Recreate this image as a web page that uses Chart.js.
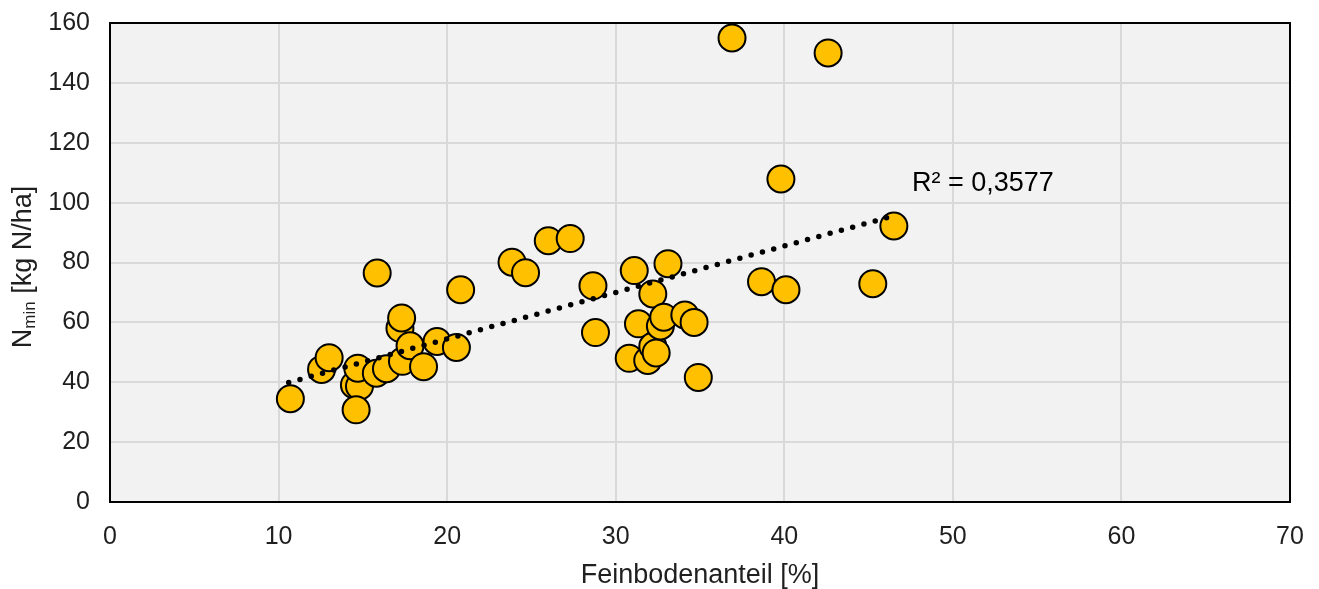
<!DOCTYPE html>
<html>
<head>
<meta charset="utf-8">
<script src="https://cdn.jsdelivr.net/npm/chart.js@4.4.1/dist/chart.umd.min.js"></script>
<style>
  html, body { margin: 0; padding: 0; background: #ffffff; }
  #wrap { width: 1319px; height: 589px; position: relative; }
</style>
</head>
<body>
<div id="wrap"><canvas id="c" width="1319" height="589"></canvas></div>
<script>
// ---- data ----
const feinboden = [10.7, 12.55, 13.0, 14.5, 14.8, 14.7, 14.6, 15.8, 16.4, 15.85,
                   17.2, 17.3, 17.35, 17.8, 18.6, 19.4, 20.55, 20.8, 23.85, 24.65,
                   26.0, 27.3, 28.65, 28.8, 30.8, 31.1, 31.35, 31.9, 32.2, 32.2,
                   32.4, 32.65, 32.85, 33.1, 34.1, 34.65, 34.9, 36.9, 38.65, 39.8,
                   40.1, 42.6, 45.25, 46.5];
const nmin = [34.5, 44.3, 48.2, 39.1, 38.7, 44.7, 30.8, 43.0, 44.5, 76.5,
              58.0, 61.5, 47.0, 52.2, 45.2, 53.6, 51.6, 70.9, 80.1, 76.6,
              87.3, 88.0, 72.2, 56.6, 48.0, 77.3, 59.5, 47.3, 69.5, 52.0,
              49.8, 58.8, 61.7, 79.6, 62.5, 60.0, 41.6, 155.0, 73.6, 107.9,
              70.9, 150.0, 72.9, 92.2];
const trendX = [10.6, 46.5];
const trendY = [39.9, 95.6];
const xTicks = [0, 10, 20, 30, 40, 50, 60, 70];
const yTicks = [0, 20, 40, 60, 80, 100, 120, 140, 160];
const rSquaredLabel = "R² = 0,3577";
const xTitle = "Feinbodenanteil [%]";
const yTitleMain = "N";
const yTitleSub = "min";
const yTitleRest = " [kg N/ha]";

const FONT = "'Liberation Sans', Arial, sans-serif";
const TXT = "#1f1f1f";

const points = feinboden.map((x, i) => ({ x: x, y: nmin[i] }));
const trend = trendX.map((x, i) => ({ x: x, y: trendY[i] }));

const decor = {
  id: 'decor',
  beforeDraw(chart) {
    const { ctx, chartArea: a } = chart;
    ctx.save();
    ctx.fillStyle = '#F2F2F2';
    ctx.fillRect(a.left, a.top, a.right - a.left, a.bottom - a.top);
    ctx.restore();
  },
  afterDatasetsDraw(chart) {
    const { ctx, chartArea: a } = chart;
    ctx.save();
    ctx.strokeStyle = '#000';
    ctx.lineWidth = 2;
    ctx.strokeRect(a.left, a.top, a.right - a.left, a.bottom - a.top);
    ctx.fillStyle = '#000';
    ctx.font = "27px " + FONT;
    ctx.textBaseline = 'alphabetic';
    ctx.textAlign = 'left';
    ctx.fillText(rSquaredLabel, 912, 191);
    ctx.fillStyle = TXT;
    ctx.textAlign = 'center';
    ctx.fillText(xTitle, (a.left + a.right) / 2, 583);
    const mainF = "27px " + FONT, subF = "17px " + FONT;
    ctx.font = mainF; const w1 = ctx.measureText(yTitleMain).width;
    const w3 = ctx.measureText(yTitleRest).width;
    ctx.font = subF; const w2 = ctx.measureText(yTitleSub).width;
    const total = w1 + w2 + w3;
    ctx.translate(31, 267);
    ctx.rotate(-Math.PI / 2);
    ctx.textAlign = 'left';
    let x0 = -total / 2;
    ctx.font = mainF; ctx.fillText(yTitleMain, x0, 0);
    ctx.font = subF; ctx.fillText(yTitleSub, x0 + w1, 4);
    ctx.font = mainF; ctx.fillText(yTitleRest, x0 + w1 + w2, 0);
    ctx.restore();
  }
};

new Chart(document.getElementById('c'), {
  type: 'scatter',
  data: {
    datasets: [
      {
        label: 'Trend',
        type: 'line',
        data: trend,
        order: 0,
        borderColor: '#000',
        borderWidth: 5.5,
        borderDash: [0, 11.7],
        borderCapStyle: 'round',
        pointRadius: 0,
        fill: false,
        tension: 0
      },
      {
        label: 'Nmin',
        data: points,
        order: 1,
        backgroundColor: '#FFC000',
        borderColor: '#000',
        borderWidth: 2,
        pointRadius: 13.5,
        pointHoverRadius: 13.5
      }
    ]
  },
  options: {
    responsive: false,
    animation: false,
    devicePixelRatio: 1,
    layout: { padding: { top: 23, right: 29, left: 0, bottom: 0 } },
    plugins: { legend: { display: false }, tooltip: { enabled: false } },
    scales: {
      x: {
        type: 'linear',
        min: 0, max: 70,
        afterBuildTicks: (s) => { s.ticks = xTicks.map(v => ({ value: v })); },
        afterFit: (s) => { s.height = 87; s.paddingLeft = 0; s.paddingRight = 0; },
        grid: { color: '#D9D9D9', lineWidth: 2, drawTicks: false },
        border: { display: false },
        ticks: { font: { size: 25, family: FONT }, color: TXT, padding: 20, maxRotation: 0 },
        title: { display: false }
      },
      y: {
        type: 'linear',
        min: 0, max: 160,
        afterBuildTicks: (s) => { s.ticks = yTicks.map(v => ({ value: v })); },
        afterFit: (s) => { s.width = 110; s.paddingTop = 0; s.paddingBottom = 0; },
        grid: { color: '#D9D9D9', lineWidth: 2, drawTicks: false },
        border: { display: false },
        ticks: { font: { size: 25, family: FONT }, color: TXT, padding: 20 },
        title: { display: false }
      }
    }
  },
  plugins: [decor]
});
</script>
</body>
</html>
